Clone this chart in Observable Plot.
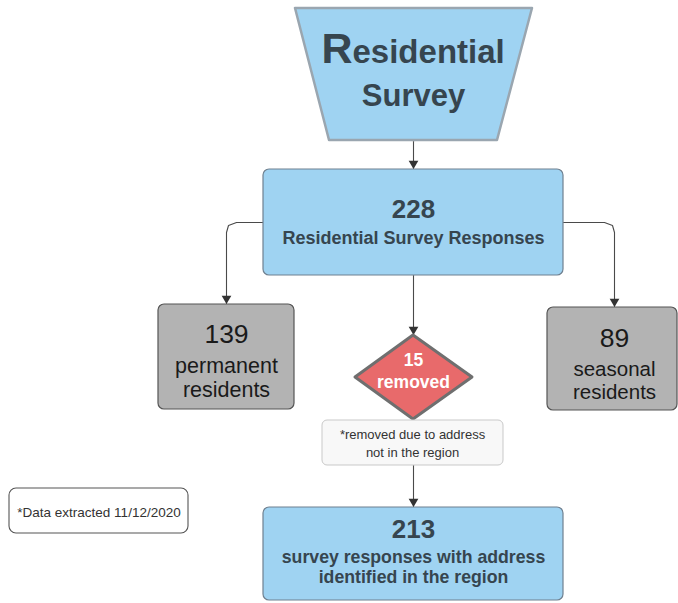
<!DOCTYPE html>
<html>
<head>
<meta charset="utf-8">
<script src="https://cdn.jsdelivr.net/npm/d3@7"></script>
<script src="https://cdn.jsdelivr.net/npm/@observablehq/plot@0.6"></script>
<style>
  html, body { margin: 0; padding: 0; background: #ffffff; }
  #chart svg { display: block; }
</style>
</head>
<body>
<div id="chart"></div>
<script>
// ---- data ----
const stageIds    = ["survey", "responses", "permanent", "removed", "seasonal", "kept"];
const stageCounts = [null, 228, 139, 15, 89, 213];
const stageLabels = [
  ["Residential", "Survey"],
  ["Residential Survey Responses"],
  ["permanent", "residents"],
  ["removed"],
  ["seasonal", "residents"],
  ["survey responses with address", "identified in the region"]
];
const noteTexts = ["*removed due to address", "not in the region"];
const footnote = "*Data extracted 11/12/2020";

// ---- layout (pixel space) ----
const W = 678, H = 603;
const boxLayout = {
  responses: {x1: 263, x2: 563, y1: 169, y2: 275, kind: "blue"},
  permanent: {x1: 158, x2: 294, y1: 304, y2: 409, kind: "gray"},
  seasonal:  {x1: 547, x2: 677, y1: 307, y2: 410, kind: "gray"},
  kept:      {x1: 263, x2: 563, y1: 507, y2: 600, kind: "blue"}
};
const trapezoid = [
  {y: 8, x1: 295, x2: 532},
  {y: 140, x1: 329, x2: 497}
];
const diamond = [
  {y: 335, x1: 413, x2: 413},
  {y: 377, x1: 355, x2: 472},
  {y: 419, x1: 413, x2: 413}
];
const noteBox = {x1: 322, x2: 503, y1: 420, y2: 465};
const dateBox = {x1: 9, x2: 188, y1: 488, y2: 533};
const connectors = [
  [[413, 141], [413, 168]],
  [[263, 222], [236, 222], [228, 225], [226, 232], [226, 303]],
  [[563, 222], [604, 222], [612, 225], [614, 232], [614, 306]],
  [[413, 275], [413, 334]],
  [[413, 465], [413, 506]]
];

const blue = "#9fd3f2", blueStroke = "#6f8090";
const grayFill = "#b3b3b3", grayStroke = "#555555";
const slate = "#36454f";

const boxes = stageIds.filter(id => boxLayout[id]).map(id => ({id, ...boxLayout[id]}));
const byId = Object.fromEntries(stageIds.map((id, i) => [id, {count: stageCounts[i], labels: stageLabels[i]}]));

const lines = connectors.map((pts, i) => pts.map(([x, y]) => ({x, y, i}))).flat();
const heads = connectors.map(pts => { const [x, y] = pts[pts.length - 1]; return {x, y: y - 5}; });

// text rows
const blueNum = [
  {x: 413, y: 217, t: String(byId.responses.count)},
  {x: 413, y: 537, t: String(byId.kept.count)}
];
const blueLab1 = [
  {x: 413, y: 243, t: byId.responses.labels[0]}
];
const blueLab2 = [
  {x: 413, y: 562, t: byId.kept.labels[0]},
  {x: 413, y: 582, t: byId.kept.labels[1]}
];
const grayNum = [
  {x: 226, y: 342, t: String(byId.permanent.count)},
  {x: 614, y: 346, t: String(byId.seasonal.count)}
];
const grayLabL = [
  {x: 226, y: 372, t: byId.permanent.labels[0]},
  {x: 226, y: 396, t: byId.permanent.labels[1]}
];
const grayLabR = [
  {x: 614, y: 375, t: byId.seasonal.labels[0]},
  {x: 614, y: 398, t: byId.seasonal.labels[1]}
];
const diamondText = [
  {x: 413, y: 365, t: String(byId.removed.count)},
  {x: 413, y: 387, t: byId.removed.labels[0]}
];
const noteRows = [
  {x: 412, y: 438, t: noteTexts[0]},
  {x: 412, y: 456, t: noteTexts[1]}
];
const title = byId.survey.labels;

const chart = Plot.plot({
  width: W, height: H, margin: 0,
  x: {domain: [0, W], range: [0, W], axis: null},
  y: {domain: [0, H], range: [0, H], axis: null},
  style: {fontFamily: "'Liberation Sans', Arial, sans-serif", background: "#ffffff"},
  marks: [
    // connectors
    Plot.line(lines, {x: "x", y: "y", z: "i", stroke: "#4a4a4a", strokeWidth: 1.1}),
    Plot.dot(heads, {x: "x", y: "y", symbol: "triangle", rotate: 180, r: 3.6, fill: "#333333", stroke: "none"}),
    // top trapezoid
    Plot.areaX(trapezoid, {y: "y", x1: "x1", x2: "x2", fill: blue, stroke: "#9aa6b0", strokeWidth: 2.5, strokeLinejoin: "round"}),
    // boxes
    Plot.rect(boxes.filter(d => d.kind === "blue"), {x1: "x1", x2: "x2", y1: "y1", y2: "y2", rx: 6, fill: blue, stroke: blueStroke, strokeWidth: 1.2}),
    Plot.rect(boxes.filter(d => d.kind === "gray"), {x1: "x1", x2: "x2", y1: "y1", y2: "y2", rx: 6, fill: grayFill, stroke: grayStroke, strokeWidth: 1.2}),
    // diamond
    Plot.areaX(diamond, {y: "y", x1: "x1", x2: "x2", fill: "#e86a6b", stroke: "#6f6f6f", strokeWidth: 3, strokeLinejoin: "round"}),
    // note boxes
    Plot.rect([noteBox], {x1: "x1", x2: "x2", y1: "y1", y2: "y2", rx: 5, fill: "#f8f8f8", stroke: "#c9c9c9", strokeWidth: 1}),
    Plot.rect([dateBox], {x1: "x1", x2: "x2", y1: "y1", y2: "y2", rx: 7, fill: "#ffffff", stroke: "#555555", strokeWidth: 1.1}),
    // title
    Plot.text([title[0][0]], {x: () => 352, y: () => 62, text: d => d, textAnchor: "end", lineAnchor: "bottom", fontSize: 43, fontWeight: "bold", fill: slate}),
    Plot.text([title[0].slice(1)], {x: () => 352, y: () => 62, text: d => d, textAnchor: "start", lineAnchor: "bottom", fontSize: 33, fontWeight: "bold", fill: slate}),
    Plot.text([title[1]], {x: () => 413, y: () => 105, text: d => d, lineAnchor: "bottom", fontSize: 31, fontWeight: "bold", fill: slate}),
    // blue box text
    Plot.text(blueNum, {x: "x", y: "y", text: "t", lineAnchor: "bottom", fontSize: 26, fontWeight: "bold", fill: slate}),
    Plot.text(blueLab1, {x: "x", y: "y", text: "t", lineAnchor: "bottom", fontSize: 18, fontWeight: "bold", fill: slate}),
    Plot.text(blueLab2, {x: "x", y: "y", text: "t", lineAnchor: "bottom", fontSize: 17.7, fontWeight: "bold", fill: slate}),
    // gray box text
    Plot.text(grayNum, {x: "x", y: "y", text: "t", lineAnchor: "bottom", fontSize: 26.5, fill: "#1a1a1a"}),
    Plot.text(grayLabL, {x: "x", y: "y", text: "t", lineAnchor: "bottom", fontSize: 21.5, fill: "#1a1a1a"}),
    Plot.text(grayLabR, {x: "x", y: "y", text: "t", lineAnchor: "bottom", fontSize: 20.5, fill: "#1a1a1a"}),
    // diamond text
    Plot.text(diamondText, {x: "x", y: "y", text: "t", lineAnchor: "bottom", fontSize: 17.5, fontWeight: "bold", fill: "#ffffff"}),
    // notes
    Plot.text(noteRows, {x: "x", y: "y", text: "t", lineAnchor: "bottom", fontSize: 13, fill: "#333333"}),
    Plot.text([footnote], {x: () => 98.5, y: () => 516, text: d => d, lineAnchor: "bottom", fontSize: 13.5, fill: "#333333"})
  ]
});
document.getElementById("chart").appendChild(chart);
</script>
</body>
</html>
